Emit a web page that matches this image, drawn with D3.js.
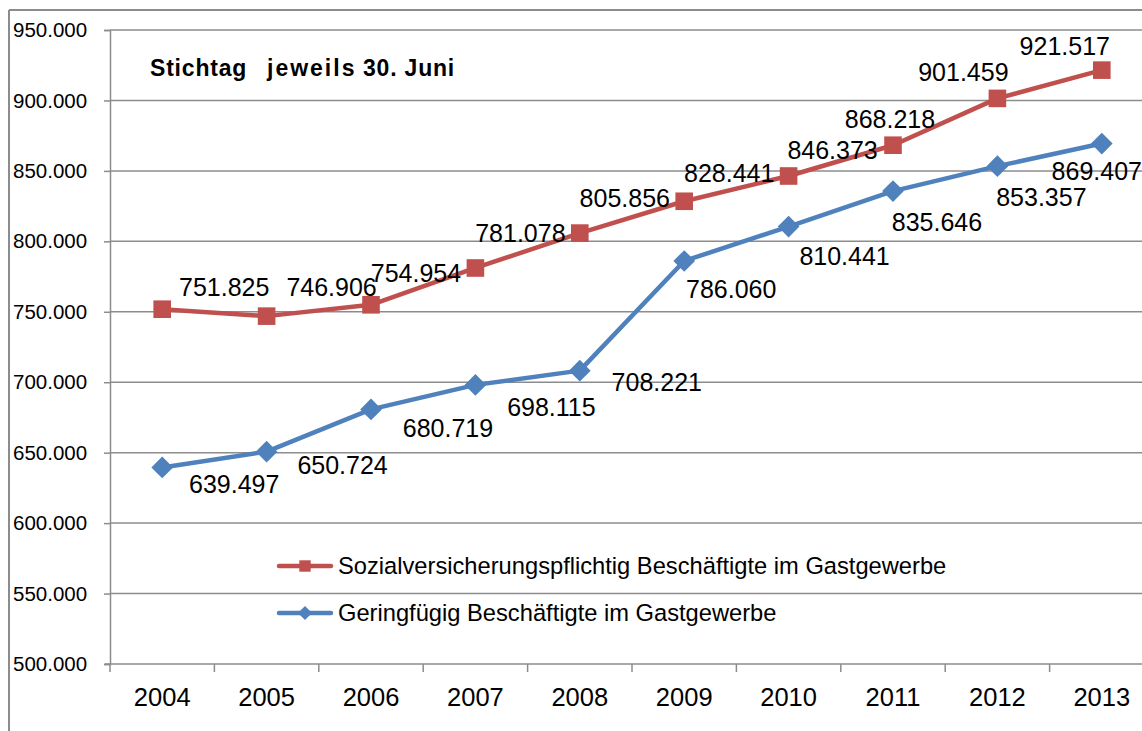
<!DOCTYPE html>
<html>
<head>
<meta charset="utf-8">
<script src="https://cdn.jsdelivr.net/npm/d3@7"></script>
<style>
  body { margin: 0; background: #fff; }
  text { font-family: "Liberation Sans", Arial, sans-serif; fill: #000; }
</style>
</head>
<body>
<div id="chart"></div>
<script>
const years = ["2004", "2005", "2006", "2007", "2008", "2009", "2010", "2011", "2012", "2013"];
const svbValues = [751825, 746906, 754954, 781078, 805856, 828441, 846373, 868218, 901459, 921517];
const gfbValues = [639497, 650724, 680719, 698115, 708221, 786060, 810441, 835646, 853357, 869407];
const yTicks = [500000, 550000, 600000, 650000, 700000, 750000, 800000, 850000, 900000, 950000];
const seriesNames = [
  "Sozialversicherungspflichtig Beschäftigte im Gastgewerbe",
  "Geringfügig Beschäftigte im Gastgewerbe"
];
const titleParts = ["Stichtag", "jeweils", "30. Juni"];

// label offsets relative to the point (layout only)
const svbLabelOffsets = [[62, -22], [65, -29], [45, -32], [45, -35], [45, -35], [45, -28], [44, -26], [-3, -26], [-34, -26], [-37, -24]];
const gfbLabelOffsets = [[72, 17], [76, 14], [77, 19], [76, 22], [77, 12], [47, 28], [56, 30], [44, 31], [44, 31], [-5, 28]];

const width = 1142, height = 731;
const margin = { top: 30, right: -12, bottom: 67, left: 110 };

const svg = d3.select("#chart").append("svg")
  .attr("width", width)
  .attr("height", height);

// outer frame
svg.append("line").attr("x1", 9).attr("x2", width).attr("y1", 10).attr("y2", 10)
  .attr("stroke", "#8c8c8c").attr("stroke-width", 2);
svg.append("line").attr("x1", 9).attr("x2", 9).attr("y1", 10).attr("y2", height)
  .attr("stroke", "#8c8c8c").attr("stroke-width", 2);

const x = d3.scaleBand()
  .domain(years)
  .range([margin.left, width - margin.right]);

const y = d3.scaleLinear()
  .domain([500000, 950000])
  .range([height - margin.bottom, margin.top]);

const fmt = d3.formatLocale({ decimal: ",", thousands: ".", grouping: [3] }).format(",.0f");

// grid lines
svg.append("g")
  .selectAll("line")
  .data(yTicks.slice(1))
  .join("line")
  .attr("x1", margin.left)
  .attr("x2", width)
  .attr("y1", d => y(d))
  .attr("y2", d => y(d))
  .attr("stroke", "#8c8c8c")
  .attr("stroke-width", 1.5);

// y axis
const yAxis = svg.append("g")
  .attr("transform", `translate(${margin.left},0)`)
  .call(d3.axisLeft(y).tickValues(yTicks).tickFormat(fmt).tickSize(6).tickPadding(12));
yAxis.selectAll("path, line").attr("stroke", "#8c8c8c").attr("stroke-width", 1.5);
yAxis.selectAll("text").style("font-size", "20.5px").attr("text-anchor", "start").attr("x", -97);

// x axis
const xAxis = svg.append("g")
  .attr("transform", `translate(0,${height - margin.bottom})`)
  .call(d3.axisBottom(x).tickSize(0).tickPadding(24));
xAxis.select(".domain").remove();
xAxis.append("line")
  .attr("x1", margin.left - 5).attr("x2", width)
  .attr("stroke", "#8c8c8c").attr("stroke-width", 1.5);
xAxis.selectAll(".sep")
  .data(years)
  .join("line")
  .attr("class", "sep")
  .attr("x1", d => x(d)).attr("x2", d => x(d))
  .attr("y1", 0).attr("y2", 8)
  .attr("stroke", "#8c8c8c").attr("stroke-width", 1.5);
xAxis.selectAll(".tick text").style("font-size", "25.5px");

// title
const title = svg.append("text")
  .attr("y", 76)
  .style("font-size", "23px")
  .style("font-weight", "bold")
  .style("letter-spacing", "0.8px");
title.append("tspan").attr("x", 150).text(titleParts[0]);
title.append("tspan").attr("x", 267).style("letter-spacing", "2px").text(titleParts[1]);
title.append("tspan").attr("x", 363).text(titleParts[2]);

const cx = d => x(d) + x.bandwidth() / 2;
const line = d3.line()
  .x((d, i) => cx(years[i]))
  .y(d => y(d));

const red = "#C0504D", blue = "#4F81BD";
const squareSym = d3.symbol().type(d3.symbolSquare);

function drawSeries(values, color, shape, offsets) {
  svg.append("path")
    .datum(values)
    .attr("d", line)
    .attr("fill", "none")
    .attr("stroke", color)
    .attr("stroke-width", 4.5)
    .attr("stroke-linejoin", "round");

  svg.append("g")
    .selectAll("path")
    .data(values)
    .join("path")
    .attr("d", shape === "square" ? squareSym.size(310)() : squareSym.size(235)())
    .attr("transform", (d, i) => `translate(${cx(years[i])},${y(d)})` + (shape === "diamond" ? " rotate(45)" : ""))
    .attr("fill", color);

  svg.append("g")
    .selectAll("text")
    .data(values)
    .join("text")
    .attr("x", (d, i) => cx(years[i]) + offsets[i][0])
    .attr("y", (d, i) => y(d) + offsets[i][1])
    .attr("text-anchor", "middle")
    .attr("dy", "0.35em")
    .style("font-size", "25px")
    .text(d => fmt(d));
}

drawSeries(gfbValues, blue, "diamond", gfbLabelOffsets);
drawSeries(svbValues, red, "square", svbLabelOffsets);

// legend
const legend = svg.append("g");
[[red, "square"], [blue, "diamond"]].forEach(([color, shape], i) => {
  const ly = 566 + i * 47;
  legend.append("line")
    .attr("x1", 279).attr("x2", 331).attr("y1", ly).attr("y2", ly)
    .attr("stroke", color).attr("stroke-width", 4.5).attr("stroke-linecap", "round");
  legend.append("path")
    .attr("d", shape === "square" ? squareSym.size(130)() : squareSym.size(100)())
    .attr("transform", `translate(305,${ly})` + (shape === "diamond" ? " rotate(45)" : ""))
    .attr("fill", color);
  legend.append("text")
    .attr("x", 338).attr("y", ly)
    .attr("dy", "0.35em")
    .style("font-size", "23.7px")
    .text(seriesNames[i]);
});
</script>
</body>
</html>
